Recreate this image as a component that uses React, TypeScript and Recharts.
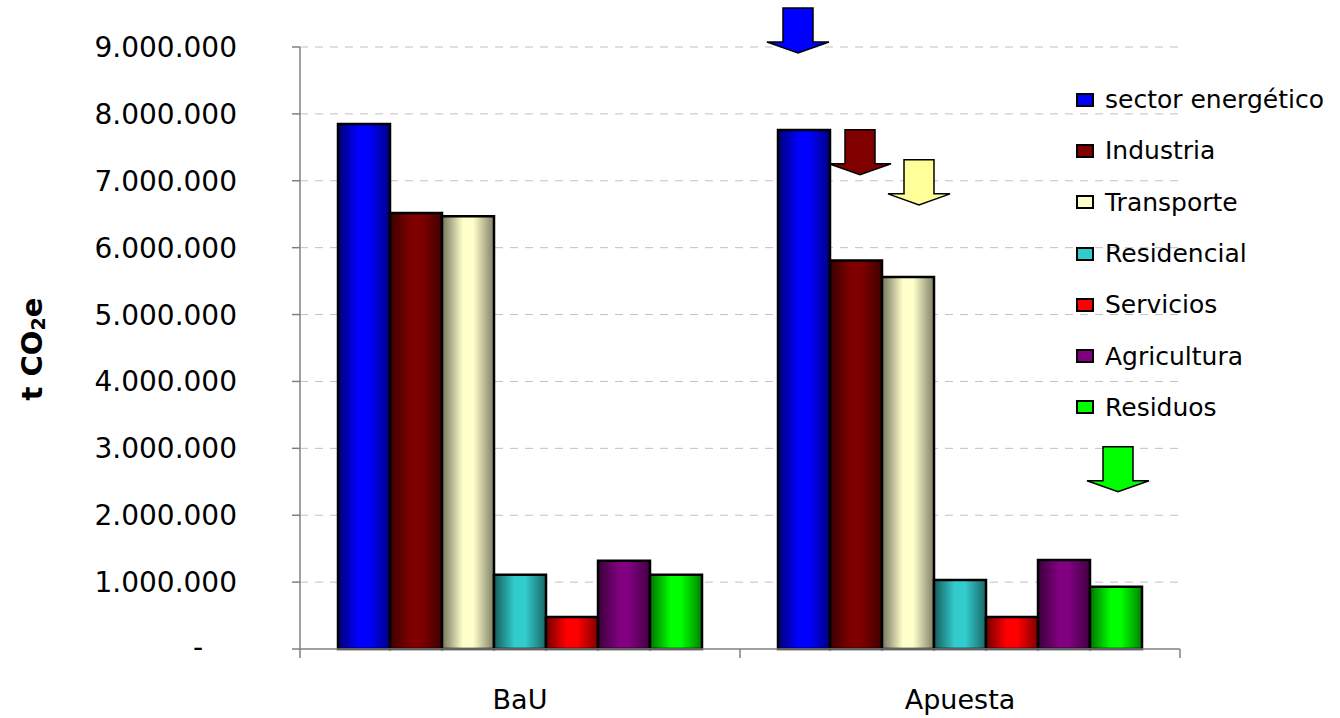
import { BarChart, Bar, XAxis, YAxis, CartesianGrid, LabelList } from "recharts";

const categories = ["BaU", "Apuesta"];
const sectors = ["sector energético", "Industria", "Transporte", "Residencial", "Servicios", "Agricultura", "Residuos"];
const colors = ["#0000FF", "#800000", "#FFFFCC", "#33CCCC", "#FF0000", "#800080", "#00FF00"];
const bauValues = [7850000, 6520000, 6470000, 1110000, 480000, 1320000, 1110000];
const apuestaValues = [7760000, 5810000, 5560000, 1030000, 480000, 1330000, 930000];
// reduction arrows over the Apuesta bars (value where the arrow tip points)
const arrowTips = [8910000, 7090000, 6640000, null, null, null, 2350000];
const arrowColors = ["#0000FF", "#800000", "#FFFF99", null, null, null, "#00FF00"];
const yTicks = [0, 1000000, 2000000, 3000000, 4000000, 5000000, 6000000, 7000000, 8000000, 9000000];

const data = categories.map((name, ci) => {
  const row: Record<string, number | string> = { name };
  const vals = ci === 0 ? bauValues : apuestaValues;
  sectors.forEach((_, si) => {
    row[`s${si}`] = vals[si];
  });
  return row;
});

const FONT = "'DejaVu Sans', Verdana, sans-serif";
const W = 1340;
const H = 718;
const M = { top: 47, right: 160, bottom: 0, left: 0 };
const Y_W = 300;
const X_H = 69;
const BAND = (W - M.right - Y_W) / categories.length;
const ARROW_DX = [-6, 4, 11, 0, 0, 0, 2];

function shade(hex: string, f: number) {
  const n = parseInt(hex.slice(1), 16);
  const r = Math.round(((n >> 16) & 255) * f);
  const g = Math.round(((n >> 8) & 255) * f);
  const b = Math.round((n & 255) * f);
  return `rgb(${r},${g},${b})`;
}

const fmt = (v: number) => v.toString().replace(/\B(?=(\d{3})+(?!\d))/g, ".");

function XTick(props: any) {
  const { x, y, payload, index } = props;
  const left = x - BAND / 2;
  return (
    <g>
      <line x1={left} y1={y - 8} x2={left} y2={y + 1} stroke="#808080" strokeWidth={1.5} />
      {index === categories.length - 1 && (
        <line x1={x + BAND / 2} y1={y - 8} x2={x + BAND / 2} y2={y + 1} stroke="#808080" strokeWidth={1.5} />
      )}
      <text x={x} y={y + 52} textAnchor="middle" fontFamily={FONT} fontSize={27} fill="#000">
        {payload.value}
      </text>
    </g>
  );
}

function YTick(props: any) {
  const { y, payload } = props;
  const v = Number(payload.value);
  if (v === 0) {
    return (
      <text x={203} y={y} dy={8} textAnchor="end" fontFamily={FONT} fontSize={28} fill="#000">
        -
      </text>
    );
  }
  return (
    <text x={237} y={y} dy={10} textAnchor="end" fontFamily={FONT} fontSize={28} fill="#000">
      {fmt(v)}
    </text>
  );
}

function YTitle() {
  const cy = M.top + (H - M.top - X_H) / 2 + 1;
  const cx = 42;
  return (
    <text
      transform={`translate(${cx},${cy}) rotate(-90)`}
      textAnchor="middle"
      fontFamily={FONT}
      fontWeight="bold"
      fontSize={29}
      fill="#000"
    >
      t CO
      <tspan fontSize={19} dy={3}>2</tspan>
      <tspan dy={-3}>e</tspan>
    </text>
  );
}

function makeArrow(si: number) {
  return (props: any) => {
    const { x, y, width, height, value, index } = props;
    const tip = arrowTips[si];
    const fill = arrowColors[si];
    if (index !== 1 || tip == null || fill == null || !value) return null;
    const base = Number(y) + Number(height);
    const tipY = base - tip * (Number(height) / Number(value));
    const cx = Number(x) + Number(width) / 2 + ARROW_DX[si];
    const headY = tipY - 11;
    const topY = tipY - 45;
    const d = `M${cx - 15},${topY} L${cx + 15},${topY} L${cx + 15},${headY} L${cx + 31},${headY} L${cx},${tipY} L${cx - 31},${headY} L${cx - 15},${headY} Z`;
    return <path d={d} fill={fill} stroke="#000" strokeWidth={1.5} strokeLinejoin="miter" />;
  };
}

function LegendBox() {
  return (
    <div style={{ position: "absolute", left: 1076, top: 74, fontFamily: FONT, fontSize: 25, color: "#000" }}>
      {sectors.map((s, i) => (
        <div key={s} style={{ display: "flex", alignItems: "center", height: 51.3, whiteSpace: "nowrap" }}>
          <span
            style={{
              display: "inline-block",
              width: 14,
              height: 10,
              background: colors[i],
              border: "2px solid #000",
              marginRight: 11,
            }}
          />
          <span>{s}</span>
        </div>
      ))}
    </div>
  );
}

export default function App() {
  return (
    <div style={{ position: "absolute", left: 0, top: 0, width: W, height: H, background: "#fff" }}>
      <BarChart width={W} height={H} data={data} margin={M} barCategoryGap={38} barGap={0}>
        <defs>
          {colors.map((c, i) => (
            <linearGradient key={c} id={`g${i}`} x1="0" y1="0" x2="1" y2="0">
              <stop offset="0%" stopColor={shade(c, 0.45)} />
              <stop offset="40%" stopColor={c} />
              <stop offset="60%" stopColor={c} />
              <stop offset="100%" stopColor={shade(c, 0.5)} />
            </linearGradient>
          ))}
        </defs>
        <CartesianGrid vertical={false} stroke="#c0c0c0" strokeDasharray="8 7" horizontalValues={yTicks.slice(1)} />
        <XAxis
          dataKey="name"
          height={X_H}
          stroke="#808080"
          strokeWidth={1.5}
          tickLine={false}
          tick={<XTick />}
          interval={0}
        />
        <YAxis
          width={Y_W}
          domain={[0, 9000000]}
          ticks={yTicks}
          stroke="#808080"
          strokeWidth={1.5}
          tickSize={8}
          tick={<YTick />}
          interval={0}
          label={<YTitle />}
        />
        {sectors.map((s, i) => (
          <Bar key={s} dataKey={`s${i}`} name={s} fill={`url(#g${i})`} stroke="#000" strokeWidth={2.5} isAnimationActive={false}>
            <LabelList dataKey={`s${i}`} content={makeArrow(i)} />
          </Bar>
        ))}
      </BarChart>
      <LegendBox />
    </div>
  );
}
